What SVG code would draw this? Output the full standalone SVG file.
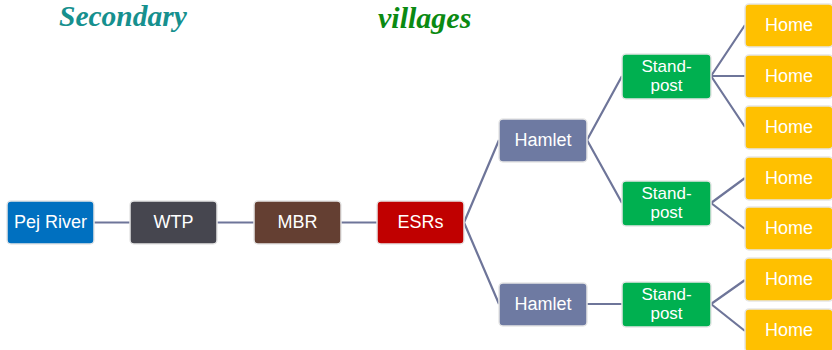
<svg xmlns="http://www.w3.org/2000/svg" width="832" height="350" viewBox="0 0 832 350">
<style>
.box{stroke:#e6e6e6;stroke-width:1.5}
.t{font-family:"Liberation Sans",Arial,sans-serif;font-size:18px;fill:#ffffff;text-anchor:middle}
.s{font-size:17px}
.c{stroke:#6e7599;stroke-width:2.2;fill:none}
.title{font-family:"Liberation Serif","Times New Roman",serif;font-style:italic;font-weight:bold;font-size:30px}
</style>
<rect width="832" height="350" fill="#ffffff"/>
<text class="title" x="59" y="26" fill="#16908e" style="font-size:29.5px">Secondary</text>
<text class="title" x="378" y="28" fill="#0b8a12">villages</text>
<g id="connectors">
<path class="c" d="M94,222.5H130M217,222.5H254M341,222.5H377"/>
<path class="c" d="M464,222.5L499,140M464,222.5L499,304"/>
<path class="c" d="M587,140L622,76M587,140L622,203M587,304H622"/>
<path class="c" d="M711,76L745,25M711,76H745M711,76L745,127"/>
<path class="c" d="M711,203L745,178M711,203L745,229"/>
<path class="c" d="M711,304L745,280M711,304L745,331"/>
</g>
<g id="pej"><rect class="box" x="7" y="201" width="87" height="43" rx="4" fill="#0070c0"/><text class="t" x="50.5" y="228">Pej River</text></g>
<g id="wtp"><rect class="box" x="130" y="201" width="87" height="43" rx="4" fill="#46464f"/><text class="t" x="173.5" y="228">WTP</text></g>
<g id="mbr"><rect class="box" x="254" y="201" width="87" height="43" rx="4" fill="#643f32"/><text class="t" x="297.5" y="228">MBR</text></g>
<g id="esrs"><rect class="box" x="377" y="201" width="87" height="43" rx="4" fill="#c00000"/><text class="t" x="420.5" y="228">ESRs</text></g>
<g id="hamlet1"><rect class="box" x="499" y="119" width="88" height="43" rx="4" fill="#6e7aa2"/><text class="t" x="543" y="146">Hamlet</text></g>
<g id="hamlet2"><rect class="box" x="499" y="283" width="88" height="43" rx="4" fill="#6e7aa2"/><text class="t" x="543" y="310">Hamlet</text></g>
<g id="sp1"><rect class="box" x="622" y="54" width="89" height="45" rx="4" fill="#00b050"/><text class="t s" x="666.5" y="72">Stand-</text><text class="t s" x="666.5" y="91">post</text></g>
<g id="sp2"><rect class="box" x="622" y="181" width="89" height="45" rx="4" fill="#00b050"/><text class="t s" x="666.5" y="199">Stand-</text><text class="t s" x="666.5" y="218">post</text></g>
<g id="sp3"><rect class="box" x="622" y="282" width="89" height="45" rx="4" fill="#00b050"/><text class="t s" x="666.5" y="300">Stand-</text><text class="t s" x="666.5" y="319">post</text></g>
<g id="home1"><rect class="box" x="745" y="4" width="88" height="43" rx="4" fill="#ffc000"/><text class="t" x="789" y="31">Home</text></g>
<g id="home2"><rect class="box" x="745" y="55" width="88" height="43" rx="4" fill="#ffc000"/><text class="t" x="789" y="82">Home</text></g>
<g id="home3"><rect class="box" x="745" y="106" width="88" height="43" rx="4" fill="#ffc000"/><text class="t" x="789" y="133">Home</text></g>
<g id="home4"><rect class="box" x="745" y="157" width="88" height="43" rx="4" fill="#ffc000"/><text class="t" x="789" y="184">Home</text></g>
<g id="home5"><rect class="box" x="745" y="207" width="88" height="43" rx="4" fill="#ffc000"/><text class="t" x="789" y="234">Home</text></g>
<g id="home6"><rect class="box" x="745" y="258" width="88" height="43" rx="4" fill="#ffc000"/><text class="t" x="789" y="285">Home</text></g>
<g id="home7"><rect class="box" x="745" y="309" width="88" height="43" rx="4" fill="#ffc000"/><text class="t" x="789" y="336">Home</text></g>
</svg>
